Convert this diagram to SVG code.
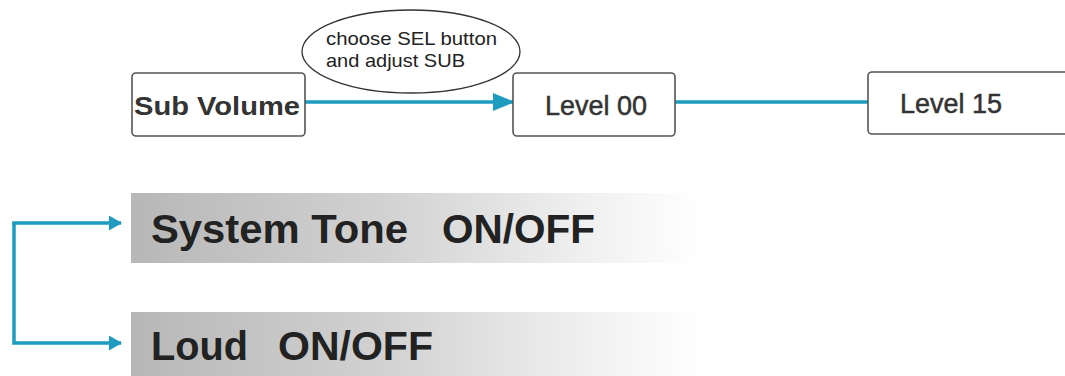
<svg xmlns="http://www.w3.org/2000/svg" width="1065" height="376" viewBox="0 0 1065 376">
<defs>
<linearGradient id="band" x1="0" y1="0" x2="1" y2="0">
<stop offset="0" stop-color="#b7b7b7"/>
<stop offset="0.45" stop-color="#d2d2d3"/>
<stop offset="0.8" stop-color="#f0f0f0"/>
<stop offset="1" stop-color="#ffffff"/>
</linearGradient>
<marker id="arr" markerWidth="13" markerHeight="15" refX="12" refY="7.5" orient="auto" markerUnits="userSpaceOnUse">
<path d="M0,0 L13,7.5 L0,15 Z" fill="#1d9cc0"/>
</marker>
<marker id="arrBig" markerWidth="22" markerHeight="18" refX="22" refY="9" orient="auto" markerUnits="userSpaceOnUse">
<path d="M0,0 L22,9 L0,18 Z" fill="#1d9cc0"/>
</marker>
</defs>
<style>
.box{fill:#fff;stroke:#555;stroke-width:1.6}
.lbl{font-family:"Liberation Sans",Arial,sans-serif;fill:#333}
.mid{stroke:#333;stroke-width:0.5}
.big{font-family:"Liberation Sans",Arial,sans-serif;font-weight:bold;font-size:40px;fill:#222}
.conn{fill:none;stroke:#1d9cc0;stroke-width:3.5}
.note{font-family:"Liberation Sans",Arial,sans-serif;font-size:19px;fill:#222}
</style>
<rect width="1065" height="376" fill="#fff"/>
<g id="band-system-tone">
<rect x="131" y="193" width="570" height="70" fill="url(#band)"/>
<text class="big" x="151" y="243" textLength="257" lengthAdjust="spacingAndGlyphs">System Tone</text>
<text class="big" x="442" y="243" textLength="153" lengthAdjust="spacingAndGlyphs">ON/OFF</text>
</g>
<g id="band-loud">
<rect x="131" y="312" width="570" height="64" fill="url(#band)"/>
<text class="big" x="151" y="360" textLength="97" lengthAdjust="spacingAndGlyphs">Loud</text>
<text class="big" x="278" y="360" textLength="155" lengthAdjust="spacingAndGlyphs">ON/OFF</text>
</g>
<g id="connectors">
<path class="conn" d="M305,102 L515,102" marker-end="url(#arrBig)"/>
<path class="conn" d="M675,102 L870,102"/>
<path class="conn" d="M14,223 L14,343 L121,343" marker-end="url(#arr)"/>
<path class="conn" d="M12.25,223 L121,223" marker-end="url(#arr)"/>
</g>
<g id="note">
<ellipse cx="411" cy="51.5" rx="109" ry="41.5" fill="#fff" stroke="#333" stroke-width="1.3"/>
<text class="note" x="326" y="45" textLength="171" lengthAdjust="spacingAndGlyphs">choose SEL button</text>
<text class="note" x="326" y="67" textLength="139" lengthAdjust="spacingAndGlyphs">and adjust SUB</text>
</g>
<g id="sub-volume">
<rect class="box" x="132" y="73" width="173" height="63" rx="4"/>
<text class="lbl" x="134" y="115" font-size="25" font-weight="bold" textLength="166" lengthAdjust="spacingAndGlyphs">Sub  Volume</text>
</g>
<g id="level-00">
<rect class="box" x="513" y="73" width="162" height="63" rx="4"/>
<text class="lbl mid" x="545" y="115" font-size="27" textLength="102" lengthAdjust="spacingAndGlyphs">Level 00</text>
</g>
<g id="level-15">
<rect class="box" x="868" y="72" width="210" height="62" rx="4"/>
<text class="lbl mid" x="900" y="113" font-size="27" textLength="102" lengthAdjust="spacingAndGlyphs">Level 15</text>
</g>
</svg>
